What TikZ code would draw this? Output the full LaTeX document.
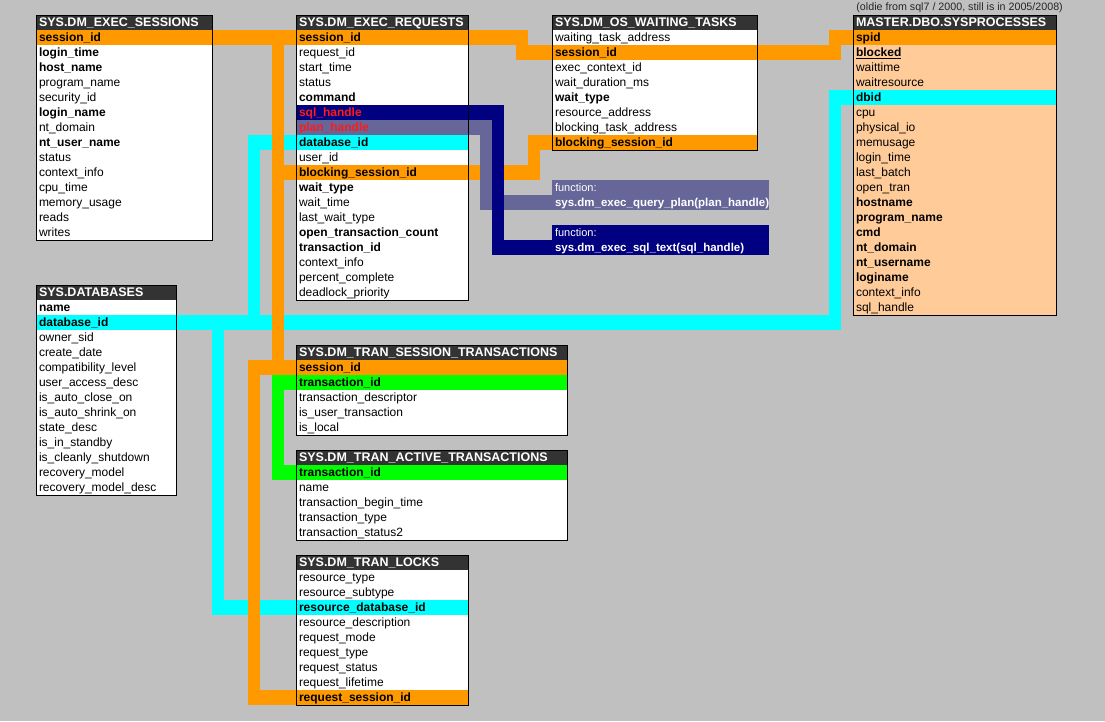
\documentclass[tikz,border=0pt]{standalone}
\usepackage{fontspec}
\setmainfont{Liberation Sans}
\usetikzlibrary{positioning}
\definecolor{bg}{HTML}{C0C0C0}
\definecolor{kor}{HTML}{FF9900}
\definecolor{kcy}{HTML}{00FFFF}
\definecolor{kgr}{HTML}{00FF00}
\definecolor{knv}{HTML}{000080}
\definecolor{ksl}{HTML}{666699}
\definecolor{hdrgray}{HTML}{333333}
\definecolor{peach}{HTML}{FFCC99}
\definecolor{hred}{HTML}{FF1A1A}
\newcommand\rf{\fontsize{12}{14}\selectfont}
\newcommand\rfb{\fontsize{12}{14}\selectfont\bfseries}
\begin{document}
\begin{tikzpicture}[x=1pt,y=-1pt,node distance=0pt,
  cell/.style={inner xsep=3pt,inner ysep=0pt,outer sep=0pt,minimum height=15pt,text height=10pt,text depth=2pt,align=left,font=\rf,fill=white,text=black},
  hdr/.style={cell,fill=hdrgray,text=white,font=\fontsize{12.5}{14}\selectfont\bfseries},
  b/.style={font=\rfb},
  rowor/.style={b,fill=kor},
  rowcy/.style={b,fill=kcy},
  rowgr/.style={b,fill=kgr},
  rownv/.style={b,fill=knv,text=hred},
  rowsl/.style={b,fill=ksl,text=hred},
  tb/.style={draw=black,line width=1pt},
  fn/.style={cell,text width=211pt,text=white,font=\fontsize{11}{13}\selectfont},
  fnb/.style={font=\fontsize{11.5}{13}\selectfont\bfseries},
  hb/.style={line width=15pt},
  vb/.style={line width=12pt}]
\fill[bg] (0,0) rectangle (1105,721);
\useasboundingbox (0,0) rectangle (1105,721);

% lanes
\coordinate (LAl) at (272,0); \coordinate (LA) at (278,0); \coordinate (LAr) at (284,0);
\coordinate (LBl) at (248,0); \coordinate (LB) at (254,0);
\coordinate (LCl) at (212,0); \coordinate (LC) at (218,0);
\coordinate (LDl) at (516,0); \coordinate (LD) at (522,0); \coordinate (LDr) at (528,0);
\coordinate (LEl) at (528,0); \coordinate (LE) at (534,0); \coordinate (LEr) at (540,0);
\coordinate (LFl) at (829,0); \coordinate (LF) at (835,0); \coordinate (LFr) at (841,0);
\coordinate (LNl) at (492,0); \coordinate (LN) at (498,0); \coordinate (LNr) at (504,0);
\coordinate (LSl) at (480,0); \coordinate (LS) at (486,0); \coordinate (LSr) at (492,0);

% ---------- SYS.DM_EXEC_SESSIONS
\begin{scope}[cell/.append style={text width=170pt}]
\node[hdr,anchor=north west] (esh) at (36,15) {SYS.DM\_EXEC\_SESSIONS};
\node[cell,rowor,below=of esh] (es1) {session\_id};
\node[cell,b,below=of es1] (es2) {login\_time};
\node[cell,b,below=of es2] (es3) {host\_name};
\node[cell,below=of es3] (es4) {program\_name};
\node[cell,below=of es4] (es5) {security\_id};
\node[cell,b,below=of es5] (es6) {login\_name};
\node[cell,below=of es6] (es7) {nt\_domain};
\node[cell,b,below=of es7] (es8) {nt\_user\_name};
\node[cell,below=of es8] (es9) {status};
\node[cell,below=of es9] (es10) {context\_info};
\node[cell,below=of es10] (es11) {cpu\_time};
\node[cell,below=of es11] (es12) {memory\_usage};
\node[cell,below=of es12] (es13) {reads};
\node[cell,below=of es13] (es14) {writes};
\end{scope}

% ---------- SYS.DM_EXEC_REQUESTS
\begin{scope}[cell/.append style={text width=166pt}]
\node[hdr,anchor=north west] (erh) at (296,15) {SYS.DM\_EXEC\_REQUESTS};
\node[cell,rowor,below=of erh] (er1) {session\_id};
\node[cell,below=of er1] (er2) {request\_id};
\node[cell,below=of er2] (er3) {start\_time};
\node[cell,below=of er3] (er4) {status};
\node[cell,b,below=of er4] (er5) {command};
\node[cell,rownv,below=of er5] (er6) {sql\_handle};
\node[cell,rowsl,below=of er6] (er7) {plan\_handle};
\node[cell,rowcy,below=of er7] (er8) {database\_id};
\node[cell,below=of er8] (er9) {user\_id};
\node[cell,rowor,below=of er9] (er10) {\underline{blocking\_session\_id}};
\node[cell,b,below=of er10] (er11) {wait\_type};
\node[cell,below=of er11] (er12) {wait\_time};
\node[cell,below=of er12] (er13) {last\_wait\_type};
\node[cell,b,below=of er13] (er14) {open\_transaction\_count};
\node[cell,b,below=of er14] (er15) {transaction\_id};
\node[cell,below=of er15] (er16) {context\_info};
\node[cell,below=of er16] (er17) {percent\_complete};
\node[cell,below=of er17] (er18) {deadlock\_priority};
\end{scope}

% ---------- SYS.DM_OS_WAITING_TASKS
\begin{scope}[cell/.append style={text width=199pt}]
\node[hdr,anchor=north west] (wth) at (552,15) {SYS.DM\_OS\_WAITING\_TASKS};
\node[cell,below=of wth] (wt1) {waiting\_task\_address};
\node[cell,rowor,below=of wt1] (wt2) {session\_id};
\node[cell,below=of wt2] (wt3) {exec\_context\_id};
\node[cell,below=of wt3] (wt4) {wait\_duration\_ms};
\node[cell,b,below=of wt4] (wt5) {wait\_type};
\node[cell,below=of wt5] (wt6) {resource\_address};
\node[cell,below=of wt6] (wt7) {blocking\_task\_address};
\node[cell,rowor,below=of wt7] (wt8) {\underline{blocking\_session\_id}};
\end{scope}

% ---------- MASTER.DBO.SYSPROCESSES
\node[font=\fontsize{10.7}{12}\selectfont,anchor=east,inner sep=0pt,text=black!85] (cap) at (1063,7.5) {(oldie from sql7 / 2000, still is in 2005/2008)};
\begin{scope}[cell/.append style={text width=197pt,fill=peach}]
\node[hdr,anchor=north west] (sph) at (853,15) {MASTER.DBO.SYSPROCESSES};
\node[cell,rowor,below=of sph] (sp1) {spid};
\node[cell,b,below=of sp1] (sp2) {\underline{blocked}};
\node[cell,below=of sp2] (sp3) {waittime};
\node[cell,below=of sp3] (sp4) {waitresource};
\node[cell,rowcy,below=of sp4] (sp5) {dbid};
\node[cell,below=of sp5] (sp6) {cpu};
\node[cell,below=of sp6] (sp7) {physical\_io};
\node[cell,below=of sp7] (sp8) {memusage};
\node[cell,below=of sp8] (sp9) {login\_time};
\node[cell,below=of sp9] (sp10) {last\_batch};
\node[cell,below=of sp10] (sp11) {open\_tran};
\node[cell,b,below=of sp11] (sp12) {hostname};
\node[cell,b,below=of sp12] (sp13) {program\_name};
\node[cell,b,below=of sp13] (sp14) {cmd};
\node[cell,b,below=of sp14] (sp15) {nt\_domain};
\node[cell,b,below=of sp15] (sp16) {nt\_username};
\node[cell,b,below=of sp16] (sp17) {loginame};
\node[cell,below=of sp17] (sp18) {context\_info};
\node[cell,below=of sp18] (sp19) {sql\_handle};
\end{scope}

% ---------- SYS.DATABASES
\begin{scope}[cell/.append style={text width=134pt}]
\node[hdr,anchor=north west] (dbh) at (36,285) {SYS.DATABASES};
\node[cell,b,below=of dbh] (db1) {name};
\node[cell,rowcy,below=of db1] (db2) {database\_id};
\node[cell,below=of db2] (db3) {owner\_sid};
\node[cell,below=of db3] (db4) {create\_date};
\node[cell,below=of db4] (db5) {compatibility\_level};
\node[cell,below=of db5] (db6) {user\_access\_desc};
\node[cell,below=of db6] (db7) {is\_auto\_close\_on};
\node[cell,below=of db7] (db8) {is\_auto\_shrink\_on};
\node[cell,below=of db8] (db9) {state\_desc};
\node[cell,below=of db9] (db10) {is\_in\_standby};
\node[cell,below=of db10] (db11) {is\_cleanly\_shutdown};
\node[cell,below=of db11] (db12) {recovery\_model};
\node[cell,below=of db12] (db13) {recovery\_model\_desc};
\end{scope}

% ---------- SYS.DM_TRAN_SESSION_TRANSACTIONS
\begin{scope}[cell/.append style={text width=265pt}]
\node[hdr,anchor=north west] (tsh) at (296,345) {SYS.DM\_TRAN\_SESSION\_TRANSACTIONS};
\node[cell,rowor,below=of tsh] (ts1) {session\_id};
\node[cell,rowgr,below=of ts1] (ts2) {transaction\_id};
\node[cell,below=of ts2] (ts3) {transaction\_descriptor};
\node[cell,below=of ts3] (ts4) {is\_user\_transaction};
\node[cell,below=of ts4] (ts5) {is\_local};
\end{scope}

% ---------- SYS.DM_TRAN_ACTIVE_TRANSACTIONS
\begin{scope}[cell/.append style={text width=265pt}]
\node[hdr,anchor=north west] (tah) at (296,450) {SYS.DM\_TRAN\_ACTIVE\_TRANSACTIONS};
\node[cell,rowgr,below=of tah] (ta1) {transaction\_id};
\node[cell,below=of ta1] (ta2) {name};
\node[cell,below=of ta2] (ta3) {transaction\_begin\_time};
\node[cell,below=of ta3] (ta4) {transaction\_type};
\node[cell,below=of ta4] (ta5) {transaction\_status2};
\end{scope}

% ---------- SYS.DM_TRAN_LOCKS
\begin{scope}[cell/.append style={text width=166pt}]
\node[hdr,anchor=north west] (tlh) at (296,555) {SYS.DM\_TRAN\_LOCKS};
\node[cell,below=of tlh] (tl1) {resource\_type};
\node[cell,below=of tl1] (tl2) {resource\_subtype};
\node[cell,rowcy,below=of tl2] (tl3) {resource\_database\_id};
\node[cell,below=of tl3] (tl4) {resource\_description};
\node[cell,below=of tl4] (tl5) {request\_mode};
\node[cell,below=of tl5] (tl6) {request\_type};
\node[cell,below=of tl6] (tl7) {request\_status};
\node[cell,below=of tl7] (tl8) {request\_lifetime};
\node[cell,rowor,below=of tl8] (tl9) {request\_session\_id};
\end{scope}

% ---------- function boxes
\node[fn,fill=ksl,anchor=north west] (fqpa) at (552,180) {function:};
\node[fn,fnb,fill=ksl,below=of fqpa] (fqp) {sys.dm\_exec\_query\_plan(plan\_handle)};
\node[fn,fill=knv,anchor=north west] (fsta) at (552,225) {function:};
\node[fn,fnb,fill=knv,below=of fsta] (fst) {sys.dm\_exec\_sql\_text(sql\_handle)};

% ---------- connectors: cyan
\begin{scope}[draw=kcy]
\draw[hb] (er8.west -| LBl) -- (er8.west);
\draw[vb] (er8.west -| LB) -- (db2.east -| LB);
\draw[hb] (db2.east) -- (db2.east -| LFr);
\draw[vb] (db2.east -| LF) -- (sp5.west -| LF);
\draw[hb] (sp5.west -| LFl) -- (sp5.west);
\draw[vb] (db2.east -| LC) -- (tl3.west -| LC);
\draw[hb] (tl3.west -| LCl) -- (tl3.west);
\end{scope}

% ---------- connectors: orange
\begin{scope}[draw=kor]
\draw[hb] (es1.east) -- (er1.west);
\draw[vb] (es1.east -| LA) -- (ts1.west -| LA);
\draw[hb] (er10.west -| LAr) -- (er10.west);
\draw[hb] (ts1.west -| LBl) -- (ts1.west);
\draw[vb] (ts1.west -| LB) -- (tl9.west -| LB);
\draw[hb] (tl9.west -| LBl) -- (tl9.west);
\draw[hb] (er1.east) -- (er1.east -| LDr);
\draw[vb] (er1.east -| LD) -- (wt2.west -| LD);
\draw[hb] (wt2.west -| LDl) -- (wt2.west);
\draw[hb] (er10.east) -- (er10.east -| LEr);
\draw[vb] (er10.east -| LE) -- (wt8.west -| LE);
\draw[hb] (wt8.west -| LEl) -- (wt8.west);
\draw[hb] (wt2.east) -- (wt2.east -| LFr);
\draw[vb] (wt2.east -| LF) -- (sp1.west -| LF);
\draw[hb] (sp1.west -| LFl) -- (sp1.west);
\end{scope}

% ---------- connectors: green
\begin{scope}[draw=kgr]
\draw[hb] (ts2.west -| LAl) -- (ts2.west);
\draw[vb] (ts2.west -| LA) -- (ta1.west -| LA);
\draw[hb] (ta1.west -| LAl) -- (ta1.west);
\end{scope}

% ---------- connectors: slate (plan_handle)
\begin{scope}[draw=ksl]
\draw[hb] (er7.east) -- (er7.east -| LSr);
\draw[vb] (er7.east -| LS) -- (fqp.west -| LS);
\draw[hb] (fqp.west -| LSl) -- (fqp.west);
\end{scope}

% ---------- connectors: navy (sql_handle)
\begin{scope}[draw=knv]
\draw[hb] (er6.east) -- (er6.east -| LNr);
\draw[vb] (er6.east -| LN) -- (fst.west -| LN);
\draw[hb] (fst.west -| LNl) -- (fst.west);
\end{scope}

% ---------- table borders
\draw[tb] (esh.north west) rectangle (es14.south east);
\draw[tb] (erh.north west) rectangle (er18.south east);
\draw[tb] (wth.north west) rectangle (wt8.south east);
\draw[tb] (sph.north west) rectangle (sp19.south east);
\draw[tb] (dbh.north west) rectangle (db13.south east);
\draw[tb] (tsh.north west) rectangle (ts5.south east);
\draw[tb] (tah.north west) rectangle (ta5.south east);
\draw[tb] (tlh.north west) rectangle (tl9.south east);
\end{tikzpicture}
\end{document}
